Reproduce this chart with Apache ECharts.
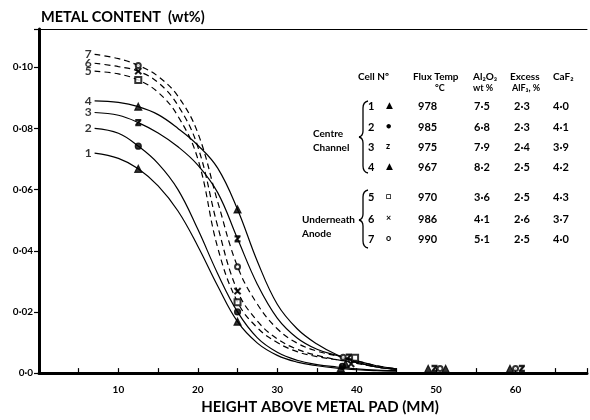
<!DOCTYPE html>
<html>
<head>
<meta charset="utf-8">
<script src="https://cdn.jsdelivr.net/npm/echarts@6/dist/echarts.min.js"></script>
<style>
  html, body { margin: 0; background: #fff; }
  #chart { width: 590px; height: 420px; }
</style>
</head>
<body>
<div id="chart"></div>
<script>
const heights = [7, 10, 12.5, 15, 17.5, 20, 22.5, 25, 27.5, 30, 32.5, 35, 37.5, 40, 42.5, 45];
// metal content (wt%) of each curve at those heights
const curve1 = [0.0719, 0.0702, 0.0668, 0.0612, 0.0530, 0.0415, 0.0285, 0.0168, 0.0098, 0.0058, 0.0036, 0.0024, 0.0016, 0.0011, 0.0008, 0.0006];
const curve2 = [0.0800, 0.0784, 0.0742, 0.0685, 0.0600, 0.0470, 0.0325, 0.0200, 0.0115, 0.0068, 0.0042, 0.0028, 0.0020, 0.0014, 0.0010, 0.0008];
const curve3 = [0.0852, 0.0843, 0.0819, 0.0785, 0.0740, 0.0680, 0.0590, 0.0439, 0.0290, 0.0180, 0.0115, 0.0078, 0.0058, 0.0040, 0.0024, 0.0014];
const curve4 = [0.0890, 0.0885, 0.0871, 0.0845, 0.0800, 0.0745, 0.0670, 0.0535, 0.0365, 0.0225, 0.0145, 0.0095, 0.0060, 0.0036, 0.0020, 0.0012];
const curve5 = [0.0987, 0.0978, 0.0958, 0.0918, 0.0840, 0.0700, 0.0410, 0.0232, 0.0148, 0.0100, 0.0070, 0.0054, 0.0044, 0.0034, 0.0020, 0.0012];
const curve6 = [0.1013, 0.1002, 0.0987, 0.0950, 0.0875, 0.0740, 0.0480, 0.0268, 0.0170, 0.0112, 0.0078, 0.0058, 0.0044, 0.0032, 0.0020, 0.0012];
const curve7 = [0.1042, 0.1028, 0.1006, 0.0970, 0.0905, 0.0785, 0.0560, 0.0348, 0.0225, 0.0145, 0.0098, 0.0072, 0.0056, 0.0040, 0.0024, 0.0014];

// measured points on each curve: [height mm, metal wt%]
const marks1 = [[12.5,0.0668],[25,0.0168],[38,0.0016],[49,0.0014]];
const marks2 = [[12.5,0.0742],[25,0.0200],[38.2,0.0022]];
const marks3 = [[12.5,0.0819],[25,0.0439],[39,0.0052],[49.8,0.0015],[60.8,0.0015]];
const marks4 = [[12.5,0.0871],[25,0.0535],[38.6,0.0030],[51.2,0.0014],[59.3,0.0014]];
const marks5 = [[12.5,0.0958],[25,0.0232],[39.8,0.0050]];
const marks6 = [[12.5,0.0987],[25,0.0268],[39.3,0.0030]];
const marks7 = [[12.5,0.1006],[25,0.0348],[38.3,0.0052],[50.5,0.0015],[60,0.0015]];

const curveNames = ['1','2','3','4','5','6','7'];
const xTickLabels = [10, 20, 30, 40, 50, 60];
const yTickLabels = ['0·0','0·02','0·04','0·06','0·08','0·10'];

// table
const headLine1 = ['Cell Nº','Flux Temp','Al₂O₃','Excess','CaF₂'];
const headLine2 = ['','°C','wt %','AlF₃, %',''];
const cellMarks = ['▲','●','z','▲','□','×','o'];
const fluxTemps = ['978','985','975','967','970','986','990'];
const al2o3 = ['7·5','6·8','7·9','8·2','3·6','4·1','5·1'];
const excessAlF3 = ['2·3','2·3','2·4','2·5','2·5','2·6','2·5'];
const caF2 = ['4·0','4·1','3·9','4·2','4·3','3·7','4·0'];
const groupNames = ['Centre\nChannel', 'Underneath\nAnode'];

const curves = [curve1, curve2, curve3, curve4, curve5, curve6, curve7];
const marks = [marks1, marks2, marks3, marks4, marks5, marks6, marks7];
const isDashed = [false, false, false, false, true, true, true];

const zPath = 'path://M0,0L10,0L10,2L3,10L10,10L10,12L0,12L0,10L7,2L0,2Z';
const xPath = 'path://M0,1L1,0L5,4L9,0L10,1L6,5L10,9L9,10L5,6L1,10L0,9L4,5Z';
const markSymbols = ['triangle', 'circle', zPath, 'triangle', 'emptyRect', xPath, 'emptyCircle'];
const markSizes = [7, 6, [5, 6], 7, 6, 6, 5];

const FONT = 'Lato, "DejaVu Sans", sans-serif';

const series = [];
curves.forEach((c, i) => {
  series.push({
    type: 'line',
    data: heights.map((h, k) => [h, c[k]]),
    smooth: 0.4,
    showSymbol: false,
    silent: true,
    lineStyle: { color: '#000', width: 1.2, type: isDashed[i] ? [6, 4] : 'solid' }
  });
});
marks.forEach((m, i) => {
  series.push({
    type: 'scatter',
    data: m,
    symbol: markSymbols[i],
    symbolSize: markSizes[i],
    itemStyle: { color: '#000', borderColor: '#000', borderWidth: 1.2 },
    z: 5
  });
});
series.push({
  type: 'scatter',
  data: curves.map((c, i) => ({ value: [heights[0], c[0]], name: curveNames[i] })),
  symbolSize: 0,
  label: {
    show: true, position: 'left', distance: 3,
    formatter: p => p.name,
    color: '#000', fontFamily: FONT, fontWeight: 'bold', fontSize: 12
  }
});

// table as text
const graphics = [];
const colX = [358, 413, 473, 510, 553];
const head2X = [358, 435, 473, 512, 553];
headLine1.forEach((t, i) => graphics.push({ type: 'text', x: colX[i], y: 72, style: { text: t, font: 'bold 10px ' + FONT, fill: '#000' } }));
headLine2.forEach((t, i) => graphics.push({ type: 'text', x: head2X[i], y: 84, style: { text: t, font: 'bold 9px ' + FONT, fill: '#000' } }));
const rowY = [101, 122, 142, 162, 192, 214, 234];
const rowCols = [curveNames, cellMarks, fluxTemps, al2o3, excessAlF3, caF2];
const rowX = [368, 386, 418, 474, 514, 553];
rowCols.forEach((col, ci) => {
  col.forEach((t, ri) => graphics.push({
    type: 'text', x: rowX[ci], y: rowY[ri],
    style: { text: t, font: 'bold ' + (ci === 1 ? 9 : 11) + 'px ' + FONT, fill: '#000' }
  }));
});
graphics.push({ type: 'text', x: 313, y: 127, style: { text: groupNames[0], font: 'bold 10px ' + FONT, fill: '#000', lineHeight: 14 } });
graphics.push({ type: 'text', x: 302, y: 213, style: { text: groupNames[1], font: 'bold 10px ' + FONT, fill: '#000', lineHeight: 14 } });

// braces: top y, notch y, bottom y
function brace(top, mid, bottom) {
  const s = { stroke: '#000', lineWidth: 1.3, fill: null };
  return [
    { type: 'bezierCurve', shape: { x1: 368, y1: top, cpx1: 363, cpy1: top + 1, x2: 363, y2: top + 7 }, style: s },
    { type: 'line', shape: { x1: 363, y1: top + 7, x2: 363, y2: mid - 6 }, style: s },
    { type: 'bezierCurve', shape: { x1: 363, y1: mid - 6, cpx1: 363, cpy1: mid - 1, x2: 359, y2: mid }, style: s },
    { type: 'bezierCurve', shape: { x1: 359, y1: mid, cpx1: 363, cpy1: mid + 1, x2: 363, y2: mid + 6 }, style: s },
    { type: 'line', shape: { x1: 363, y1: mid + 6, x2: 363, y2: bottom - 7 }, style: s },
    { type: 'bezierCurve', shape: { x1: 363, y1: bottom - 7, cpx1: 363, cpy1: bottom - 1, x2: 368, y2: bottom }, style: s }
  ];
}
graphics.push(...brace(101, 137, 173));
graphics.push(...brace(190, 220, 248));

const chart = echarts.init(document.getElementById('chart'));
chart.setOption({
  animation: false,
  backgroundColor: '#fff',
  title: {
    text: 'METAL CONTENT  (wt%)', left: 36, top: 5,
    textStyle: { color: '#000', fontFamily: FONT, fontWeight: 'bold', fontSize: 14.5 }
  },
  grid: { left: 39, right: 0, top: 29, bottom: 42 },
  xAxis: [{
    type: 'value', min: 0, max: 69, interval: 5,
    name: 'HEIGHT ABOVE METAL PAD (MM)', nameLocation: 'middle', nameGap: 26,
    nameTextStyle: { color: '#000', fontFamily: FONT, fontWeight: 'bold', fontSize: 15, padding: [0, 0, 0, 14] },
    axisLine: { lineStyle: { color: '#000', width: 3 } },
    axisTick: { inside: true, length: 5, lineStyle: { color: '#000', width: 1.2 } },
    axisLabel: {
      color: '#000', fontFamily: FONT, fontWeight: 'bold', fontSize: 10, margin: 12,
      formatter: v => xTickLabels.includes(v) ? String(v) : ''
    },
    splitLine: { show: false }
  }, {
    type: 'value', position: 'top', min: 0, max: 69,
    axisLine: { show: true, lineStyle: { color: '#000', width: 1 } },
    axisTick: { show: false }, axisLabel: { show: false }, splitLine: { show: false }
  }],
  yAxis: {
    type: 'value', min: 0, max: 0.1125, interval: 0.02,
    axisLine: { show: true, lineStyle: { color: '#000', width: 3 } },
    axisTick: { show: true, length: 5, lineStyle: { color: '#000', width: 1.2 } },
    axisLabel: {
      color: '#000', fontFamily: FONT, fontWeight: 'bold', fontSize: 10, margin: 6,
      formatter: v => {
        const k = Math.round(v / 0.02);
        return Math.abs(v / 0.02 - k) < 1e-6 ? yTickLabels[k] : '';
      }
    },
    splitLine: { show: false }
  },
  series: series,
  graphic: graphics
});
</script>
</body>
</html>
